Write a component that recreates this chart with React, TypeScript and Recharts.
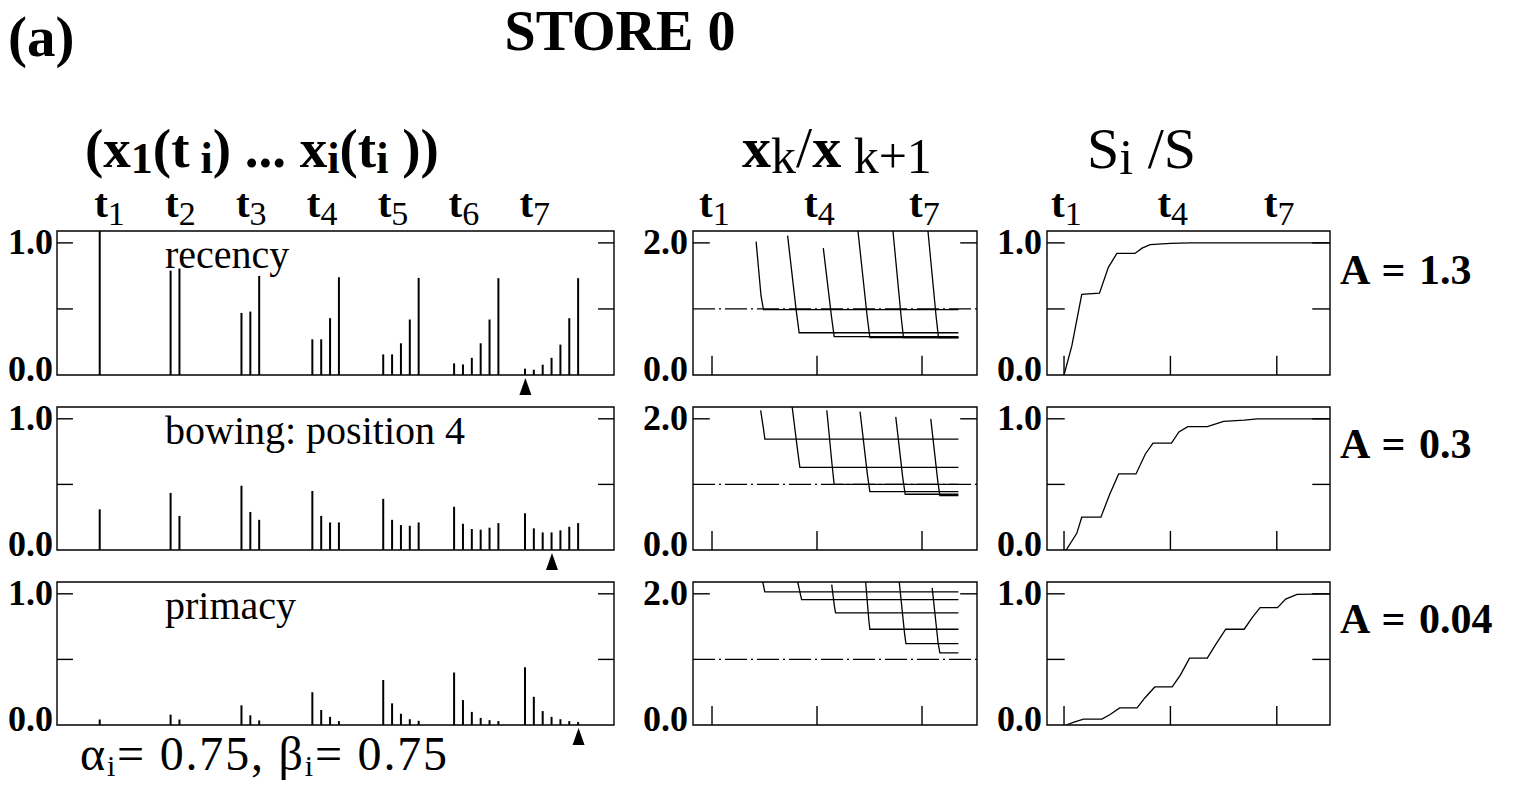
import React from 'react';
import { BarChart, Bar, LineChart, Line, XAxis, YAxis, ReferenceLine, ReferenceArea, ReferenceDot } from 'recharts';

const SERIF = "'Liberation Serif', 'Times New Roman', serif";

// ---------- left column: x_1(t_i) ... x_i(t_i), one group per time step ----------
const recencyBars = [
  [1.09],
  [0.79, 0.806],
  [0.47, 0.48, 0.75],
  [0.27, 0.27, 0.43, 0.74],
  [0.156, 0.156, 0.24, 0.42, 0.735],
  [0.088, 0.08, 0.13, 0.24, 0.42, 0.733],
  [0.048, 0.04, 0.078, 0.13, 0.23, 0.43, 0.733],
];
const bowingBars = [
  [0.31],
  [0.435, 0.26],
  [0.49, 0.29, 0.23],
  [0.45, 0.26, 0.21, 0.21],
  [0.39, 0.23, 0.19, 0.185, 0.21],
  [0.33, 0.2, 0.16, 0.155, 0.17, 0.205],
  [0.28, 0.165, 0.134, 0.134, 0.15, 0.177, 0.205],
];
const primacyBars = [
  [0.042],
  [0.079, 0.042],
  [0.15, 0.074, 0.035],
  [0.25, 0.114, 0.062, 0.03],
  [0.343, 0.165, 0.086, 0.044, 0.032],
  [0.4, 0.19, 0.1, 0.054, 0.037, 0.03],
  [0.44, 0.215, 0.106, 0.062, 0.044, 0.03, 0.022],
];
const arrowItems = [1, 4, 7]; // item marked with the arrow at t7
const panelLabels = ['recency', 'bowing: position 4', 'primacy'];
const timeTicks = [1, 2, 3, 4, 5, 6, 7];
const sparseTicks = [1, 4, 7];
const aLabels = ['A = 1.3', 'A = 0.3', 'A = 0.04'];

// ---------- middle column: x_k / x_{k+1} curves, points [t, ratio] ----------
const recencyRatios = [
  [[2.26, 2.02], [2.4, 1.2], [2.47, 0.99], [8.04, 0.99]],
  [[3.16, 2.11], [3.4, 1.0], [3.49, 0.64], [8.04, 0.64]],
  [[4.18, 1.92], [4.41, 0.9], [4.49, 0.58], [8.04, 0.58]],
  [[5.17, 2.18], [5.43, 0.9], [5.51, 0.565], [8.04, 0.565]],
  [[6.17, 2.18], [6.4, 0.9], [6.47, 0.565], [8.04, 0.565]],
  [[7.17, 2.18], [7.4, 0.9], [7.47, 0.565], [8.04, 0.565]],
];
const bowingRatios = [
  [[2.39, 2.13], [2.47, 1.85], [2.51, 1.69], [8.04, 1.69]],
  [[3.29, 2.18], [3.45, 1.5], [3.51, 1.26], [8.04, 1.26]],
  [[4.28, 2.13], [4.43, 1.3], [4.49, 1.0], [8.04, 1.0]],
  [[5.23, 2.11], [5.44, 1.15], [5.51, 0.89], [8.04, 0.89]],
  [[6.25, 2.03], [6.45, 1.1], [6.52, 0.85], [8.04, 0.85]],
  [[7.25, 2.0], [7.45, 1.05], [7.51, 0.83], [8.04, 0.83]],
];
const primacyRatios = [
  [[2.45, 2.18], [2.51, 2.03], [8.04, 2.03]],
  [[3.45, 2.18], [3.53, 1.98], [3.56, 1.91], [8.04, 1.91]],
  [[4.42, 2.14], [4.5, 1.8], [4.53, 1.71], [8.04, 1.71]],
  [[5.39, 2.18], [5.48, 1.6], [5.51, 1.46], [8.04, 1.46]],
  [[6.35, 2.18], [6.5, 1.4], [6.54, 1.24], [8.04, 1.24]],
  [[7.29, 2.09], [7.46, 1.25], [7.51, 1.1], [8.04, 1.1]],
];

// ---------- right column: S_i / S, points [t, value] ----------
const recencyShare = [
  [1.0, 0], [1.22, 0.22], [1.5, 0.61], [2.0, 0.62], [2.25, 0.815], [2.49, 0.92], [3.0, 0.92],
  [3.2, 0.96], [3.43, 0.987], [4.0, 0.997], [4.57, 1.0], [8.5, 1.0],
];
const bowingShare = [
  [1.06, 0], [1.36, 0.127], [1.5, 0.25], [2.04, 0.25], [2.28, 0.42], [2.54, 0.58], [3.03, 0.58],
  [3.29, 0.73], [3.51, 0.815], [4.03, 0.815], [4.24, 0.9], [4.49, 0.94], [5.04, 0.94],
  [5.5, 0.98], [6.08, 0.99], [6.45, 1.0], [8.5, 1.0],
];
const primacyShare = [
  [1.06, 0], [1.26, 0.02], [1.55, 0.045], [2.07, 0.045], [2.3, 0.08], [2.57, 0.13], [3.06, 0.13],
  [3.29, 0.21], [3.56, 0.29], [4.05, 0.29], [4.28, 0.38], [4.54, 0.51], [5.04, 0.51],
  [5.27, 0.61], [5.56, 0.73], [6.08, 0.73], [6.31, 0.82], [6.53, 0.895], [7.02, 0.895],
  [7.25, 0.96], [7.57, 0.995], [8.5, 1.0],
];

const rows = [
  { plotTop: 231, plotH: 144 },
  { plotTop: 407, plotH: 143 },
  { plotTop: 582, plotH: 143 },
];

const MT = 16;
const MB = 26;
const AXIS_W = 58;
const TOP_AXIS_H = 50;

const yTick = (props: any) => {
  const { x, y, payload } = props;
  const v = payload.value as number;
  return (
    <text x={x} y={v === 0 ? y - 7 : y - 1.5} dy="0.36em" textAnchor="end" fontFamily={SERIF}
      fontWeight="bold" fontSize={36} fill="#000">{v.toFixed(1)}</text>
  );
};

const makeTTick = (dx: number, toLabel: (v: number) => string) => (props: any) => {
  const { x, y, payload } = props;
  return (
    <text x={x + dx} y={y - 14} fontFamily={SERIF} fill="#000">
      <tspan fontWeight="bold" fontSize={41}>t</tspan>
      <tspan fontSize={34} dy={8}>{toLabel(payload.value)}</tspan>
    </text>
  );
};

const arrowShape = (p: any) => (
  <polygon points={`${p.cx},${p.cy + 3} ${p.cx - 6},${p.cy + 20} ${p.cx + 6},${p.cy + 20}`} fill="#000" />
);

const frameProps = { fill: 'none', stroke: '#000', strokeWidth: 1.4, fillOpacity: 0, ifOverflow: 'visible' as const };
const tickLine = { stroke: '#000', strokeWidth: 1.4, ifOverflow: 'visible' as const };

function BarPanel({ bars, arrow, row, showT }: any) {
  const data = bars.flatMap((g: number[], gi: number) => g.map((v, j) => ({ idx: gi * 8 + j, v })));
  const xDom: [number, number] = [-4.87, 58.0];
  const yDom: [number, number] = [0, 1.09];
  const plotW = 557;
  const axisH = showT ? TOP_AXIS_H : 0;
  const tl = 1.8;
  return (
    <div style={{ position: 'absolute', left: 57 - AXIS_W, top: row.plotTop - MT - axisH }}>
      <BarChart width={AXIS_W + plotW + 4} height={MT + axisH + row.plotH + MB} data={data}
        margin={{ top: MT, right: 4, bottom: MB, left: 0 }}>
        <XAxis type="number" dataKey="idx" domain={xDom} allowDataOverflow orientation="top"
          hide={!showT} height={showT ? TOP_AXIS_H : 0} ticks={timeTicks.map((t) => (t - 1) * 8)} interval={0}
          axisLine={false} tickLine={false} tickSize={0} tickMargin={0}
          tick={makeTTick(-6, (v) => String(v / 8 + 1))} />
        <YAxis type="number" domain={yDom} allowDataOverflow ticks={[0, 1]} interval={0} width={AXIS_W}
          axisLine={false} tickLine={false} tickSize={0} tickMargin={4} tick={yTick} />
        <ReferenceArea x1={xDom[0]} x2={xDom[1]} y1={yDom[0]} y2={yDom[1]} {...frameProps} />
        {[0.5, 1].map((y) => (
          <ReferenceLine key={'l' + y} segment={[{ x: xDom[0], y }, { x: xDom[0] + tl, y }]} {...tickLine} />
        ))}
        {[0.5, 1].map((y) => (
          <ReferenceLine key={'r' + y} segment={[{ x: xDom[1] - tl, y }, { x: xDom[1], y }]} {...tickLine} />
        ))}
        <Bar dataKey="v" fill="#000" barSize={2} isAnimationActive={false} />
        <ReferenceDot x={48 + arrow - 1} y={0} r={1} shape={arrowShape} ifOverflow="visible" />
      </BarChart>
    </div>
  );
}

function CurvePanel({ curves, row, showT, left, plotW, xDom, yDom, yTicks, sideTicks, bottomTickH, refLine, sideTickLen }: any) {
  const axisH = showT ? TOP_AXIS_H : 0;
  return (
    <div style={{ position: 'absolute', left: left - AXIS_W, top: row.plotTop - MT - axisH }}>
      <LineChart width={AXIS_W + plotW + 4} height={MT + axisH + row.plotH + MB}
        margin={{ top: MT, right: 4, bottom: MB, left: 0 }}>
        <XAxis type="number" dataKey="t" domain={xDom} allowDataOverflow orientation="top"
          hide={!showT} height={showT ? TOP_AXIS_H : 0} ticks={sparseTicks} interval={0}
          axisLine={false} tickLine={false} tickSize={0} tickMargin={0}
          tick={makeTTick(-13, (v) => String(v))} />
        <YAxis type="number" domain={yDom} allowDataOverflow ticks={yTicks} interval={0} width={AXIS_W}
          axisLine={false} tickLine={false} tickSize={0} tickMargin={5} tick={yTick} />
        <ReferenceArea x1={xDom[0]} x2={xDom[1]} y1={yDom[0]} y2={yDom[1]} {...frameProps} />
        {refLine && (
          <ReferenceLine y={1} stroke="#000" strokeWidth={1.2} strokeDasharray="22 4 2 4" />
        )}
        {sideTicks.map((y: number) => (
          <ReferenceLine key={'l' + y} segment={[{ x: xDom[0], y }, { x: xDom[0] + sideTickLen, y }]} {...tickLine} />
        ))}
        {sideTicks.map((y: number) => (
          <ReferenceLine key={'r' + y} segment={[{ x: xDom[1] - sideTickLen, y }, { x: xDom[1], y }]} {...tickLine} />
        ))}
        {sparseTicks.map((t) => (
          <ReferenceLine key={'b' + t} segment={[{ x: t, y: 0 }, { x: t, y: bottomTickH }]} {...tickLine} />
        ))}
        {curves.map((c: number[][], i: number) => (
          <Line key={i} data={c.map(([t, v]) => ({ t, v }))} dataKey="v" type="linear" dot={false}
            stroke="#000" strokeWidth={1.3} isAnimationActive={false} />
        ))}
      </LineChart>
    </div>
  );
}

const barSets = [recencyBars, bowingBars, primacyBars];
const ratioSets = [recencyRatios, bowingRatios, primacyRatios];
const shareSets = [recencyShare, bowingShare, primacyShare];

export default function App() {
  const pre = { whiteSpace: 'pre' as const };
  return (
    <div style={{ position: 'absolute', left: 0, top: 0, width: 1524, height: 787, background: '#fff' }}>
      {rows.map((row, i) => (
        <BarPanel key={'b' + i} bars={barSets[i]} arrow={arrowItems[i]} row={row} showT={i === 0} />
      ))}
      {rows.map((row, i) => (
        <CurvePanel key={'m' + i} curves={ratioSets[i]} row={row} showT={i === 0} left={693} plotW={284}
          xDom={[0.457, 8.571]} yDom={[0, 2.18]} yTicks={[0, 2]} sideTicks={[2]} bottomTickH={0.29}
          refLine sideTickLen={0.48} />
      ))}
      {rows.map((row, i) => (
        <CurvePanel key={'s' + i} curves={[shareSets[i]]} row={row} showT={i === 0} left={1047} plotW={283}
          xDom={[0.52, 8.5]} yDom={[0, 1.09]} yTicks={[0, 1]} sideTicks={[0.5, 1]} bottomTickH={0.145}
          refLine={false} sideTickLen={0.5} />
      ))}
      <svg width={1524} height={787} style={{ position: 'absolute', left: 0, top: 0, pointerEvents: 'none' }}>
        <text x={8} y={56} fontFamily={SERIF} fontWeight="bold" fontSize={57} fill="#000">(a)</text>
        <text x={620} y={50} textAnchor="middle" fontFamily={SERIF} fontWeight="bold" fontSize={56} fill="#000">STORE 0</text>
        <text x={85} y={167} fontFamily={SERIF} fontWeight="bold" fontSize={55} fill="#000" style={pre}>
          <tspan>(x</tspan>
          <tspan dy={6} fontSize={44}>1</tspan>
          <tspan dy={-6}>(t</tspan>
          <tspan dy={6} fontSize={44}> i</tspan>
          <tspan dy={-6}>) ... x</tspan>
          <tspan dy={6} fontSize={44}>i</tspan>
          <tspan dy={-6}>(t</tspan>
          <tspan dy={6} fontSize={44}>i</tspan>
          <tspan dy={-6}> ))</tspan>
        </text>
        <text x={742} y={167} fontFamily={SERIF} fontSize={58} fill="#000" style={pre}>
          <tspan fontWeight="bold">x</tspan>
          <tspan dy={6} fontSize={50}>k</tspan>
          <tspan dy={-6}>/</tspan>
          <tspan fontWeight="bold">x</tspan>
          <tspan dy={6} fontSize={50}> k+1</tspan>
        </text>
        <text x={1087} y={168} fontFamily={SERIF} fontSize={58} fill="#000" style={pre}>
          <tspan>S</tspan>
          <tspan dy={6} fontSize={50}>i</tspan>
          <tspan dy={-6}> /S</tspan>
        </text>
        {panelLabels.map((lab, i) => (
          <text key={lab} x={165} y={rows[i].plotTop + 37} fontFamily={SERIF} fontSize={40} fill="#000" style={pre}>{lab}</text>
        ))}
        {aLabels.map((lab, i) => (
          <text key={lab} x={1340} y={[284, 458, 633][i]} fontFamily={SERIF} fontWeight="bold" fontSize={42}
            fill="#000" style={{ whiteSpace: 'pre', wordSpacing: 3 }}>{lab}</text>
        ))}
        <text x={80} y={770} fontFamily={SERIF} fontSize={48} fill="#000" style={{ whiteSpace: 'pre', letterSpacing: 1.8 }}>
          <tspan>α</tspan>
          <tspan dy={6} fontSize={30}>i</tspan>
          <tspan dy={-6}>= 0.75, β</tspan>
          <tspan dy={6} fontSize={30}>i</tspan>
          <tspan dy={-6}>= 0.75</tspan>
        </text>
      </svg>
    </div>
  );
}
